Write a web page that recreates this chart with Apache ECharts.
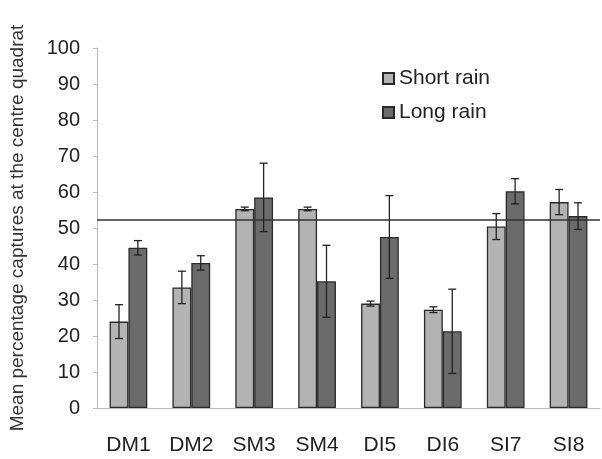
<!DOCTYPE html>
<html><head><meta charset="utf-8">
<script src="https://cdn.jsdelivr.net/npm/echarts@6/dist/echarts.min.js"></script>
<style>html,body{margin:0;padding:0;background:#fff}#c{width:602px;height:459px}</style>
</head><body><div id="c"></div>
<script>
const categories = ['DM1','DM2','SM3','SM4','DI5','DI6','SI7','SI8'];
const shortRain = [24, 33.5, 55.3, 55.3, 29, 27.3, 50.4, 57.2];
const shortErr  = [4.7, 4.5, 0.5, 0.5, 0.7, 0.8, 3.6, 3.5];
const longRain  = [44.5, 40.3, 58.5, 35.2, 47.5, 21.3, 60.2, 53.3];
const longErr   = [2, 2, 9.5, 10, 11.5, 11.7, 3.5, 3.7];
const threshold = 52.2;
const yTicks = {min: 0, max: 100, interval: 10};

const FONT = 'Liberation Sans, Arial, sans-serif';
const GAP = 0.4;
function errSeries(vals, errs, side) {
  return {
    type: 'custom',
    z: 10,
    silent: true,
    renderItem: function (params, api) {
      const i = api.value(0);
      const v = api.value(1), e = api.value(2);
      const band = api.size([1, 0])[0];
      const bw = band * (1 - GAP) / 2;
      const c = api.coord([i, v]);
      const x = c[0] + side * bw / 2;
      const top = api.coord([i, v + e])[1];
      const bot = api.coord([i, v - e])[1];
      const cap = 4;
      const st = {stroke: '#222', lineWidth: 1.3};
      return {type: 'group', children: [
        {type: 'line', shape: {x1: x, y1: top, x2: x, y2: bot}, style: st},
        {type: 'line', shape: {x1: x - cap, y1: top, x2: x + cap, y2: top}, style: st},
        {type: 'line', shape: {x1: x - cap, y1: bot, x2: x + cap, y2: bot}, style: st}
      ]};
    },
    data: vals.map((v, i) => [i, v, errs[i]])
  };
}

const chart = echarts.init(document.getElementById('c'), null, {renderer: 'canvas'});
chart.setOption({
  animation: false,
  grid: {left: 97, right: 2, top: 48, bottom: 51},
  legend: {
    orient: 'vertical', left: 377, top: 63, itemGap: 13,
    itemWidth: 11, itemHeight: 11, icon: 'rect',
    textStyle: {fontFamily: FONT, fontSize: 21, color: '#222'},
    data: ['Short rain', 'Long rain']
  },
  xAxis: {
    type: 'category', data: categories,
    axisLine: {lineStyle: {color: '#bbb'}},
    axisTick: {show: false},
    axisLabel: {fontFamily: FONT, fontSize: 21, color: '#222', margin: 27}
  },
  yAxis: {
    type: 'value', min: yTicks.min, max: yTicks.max, interval: yTicks.interval,
    name: 'Mean percentage captures at the centre quadrat',
    nameLocation: 'middle', nameGap: 70, nameRotate: 90,
    nameTextStyle: {fontFamily: FONT, fontSize: 19, color: '#333'},
    axisLine: {show: true, lineStyle: {color: '#bbb'}},
    axisTick: {show: true, length: 4, lineStyle: {color: '#bbb'}},
    splitLine: {show: false},
    axisLabel: {fontFamily: FONT, fontSize: 20, color: '#222', margin: 17}
  },
  series: [
    {name: 'Short rain', type: 'bar', data: shortRain, barGap: '0%', barCategoryGap: (GAP*100)+'%',
     itemStyle: {color: '#b3b3b3', borderColor: '#2a2a2a', borderWidth: 1.3},
     markLine: {silent: true, symbol: 'none', label: {show: false},
       lineStyle: {color: '#333', width: 1.5, type: 'solid'},
       data: [{yAxis: threshold}]}},
    {name: 'Long rain', type: 'bar', data: longRain,
     itemStyle: {color: '#6b6b6b', borderColor: '#2a2a2a', borderWidth: 1.3}},
    errSeries(shortRain, shortErr, -1),
    errSeries(longRain, longErr, 1)
  ]
});
</script></body></html>
